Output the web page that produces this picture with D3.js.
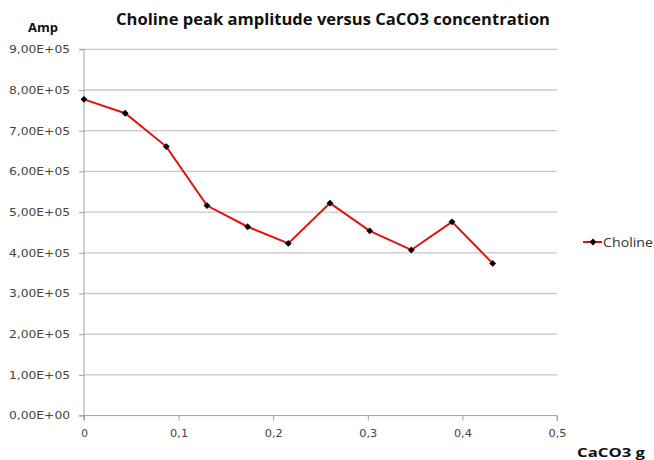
<!DOCTYPE html>
<html><head><meta charset="utf-8">
<script src="https://cdn.jsdelivr.net/npm/d3@7"></script>
<style>body{margin:0;background:#fff}</style>
</head><body>
<script>
const xValues = [0, 0.0435, 0.087, 0.13, 0.173, 0.216, 0.26, 0.302, 0.346, 0.389, 0.432];
const amplitudes = [777000, 743000, 661000, 516000, 464000, 423000, 522000, 454000, 407000, 476000, 374000];
const xTicks = [0, 0.1, 0.2, 0.3, 0.4, 0.5];
const xTickLabels = ["0", "0,1", "0,2", "0,3", "0,4", "0,5"];
const yTicks = [0, 100000, 200000, 300000, 400000, 500000, 600000, 700000, 800000, 900000];
const yTickLabels = ["0,00E+00","1,00E+05","2,00E+05","3,00E+05","4,00E+05","5,00E+05","6,00E+05","7,00E+05","8,00E+05","9,00E+05"];
const seriesName = "Choline";
const title = "Choline peak amplitude versus CaCO3 concentration";

const W = 654, H = 460;
const svg = d3.select("body").append("svg").attr("width", W).attr("height", H);
const font = "'Open Sans', 'Liberation Sans', sans-serif";
const tickFont = "'DejaVu Sans', sans-serif";
const x = d3.scaleLinear().domain([0, 0.5]).range([84, 557]);
const y = d3.scaleLinear().domain([0, 900000]).range([415.6, 49.3]);

// gridlines
svg.append("g").selectAll("line").data(yTicks.slice(1)).join("line")
  .attr("x1", 84).attr("x2", 557)
  .attr("y1", d => y(d)).attr("y2", d => y(d))
  .attr("stroke", "#c8c8c8").attr("stroke-width", 1.3);

// y axis
const yAxis = d3.axisLeft(y).tickValues(yTicks).tickSize(5).tickPadding(9)
  .tickFormat((d, i) => yTickLabels[i]);
const gy = svg.append("g").attr("transform", "translate(84,0)").call(yAxis);
gy.select(".domain").attr("stroke", "#a0a0a0").attr("d", `M-5,${y(0)}H0V${y(900000)}H-5`);
gy.selectAll(".tick line").attr("stroke", "#a0a0a0");
gy.selectAll(".tick text").attr("font-family", tickFont).attr("font-size", 10.5).attr("fill", "#444")
  .attr("textLength", 61).attr("lengthAdjust", "spacingAndGlyphs");

// x axis
const xAxis = d3.axisBottom(x).tickValues(xTicks).tickSize(5).tickPadding(9)
  .tickFormat((d, i) => xTickLabels[i]);
const gx = svg.append("g").attr("transform", `translate(0,${y(0)})`).call(xAxis);
gx.select(".domain").attr("stroke", "#a0a0a0").attr("d", `M${x(0)},5V0H${x(0.5)}V5`);
gx.selectAll(".tick line").attr("stroke", "#a0a0a0");
gx.selectAll(".tick text").attr("font-family", tickFont).attr("font-size", 10.5).attr("fill", "#444")
  .each(function(d, i) { if (i > 0) d3.select(this).attr("textLength", 18).attr("lengthAdjust", "spacingAndGlyphs"); });

// line
const data = xValues.map((v, i) => ({x: v, y: amplitudes[i]}));
svg.append("path").datum(data)
  .attr("d", d3.line().x(d => x(d.x)).y(d => y(d.y)))
  .attr("fill", "none").attr("stroke", "#e31010").attr("stroke-width", 2);
const diamond = d3.symbol().type(d3.symbolDiamond2).size(30);
svg.append("g").selectAll("path").data(data).join("path")
  .attr("d", diamond).attr("transform", d => `translate(${x(d.x)},${y(d.y)})`)
  .attr("fill", "#000");

// legend
const lg = svg.append("g").attr("transform", "translate(583,242)");
lg.append("line").attr("x1", 0).attr("x2", 19).attr("stroke", "#e31010").attr("stroke-width", 2);
lg.append("path").attr("d", diamond).attr("transform", "translate(10,0)").attr("fill", "#000");
lg.append("text").attr("x", 20).attr("y", 5).text(seriesName)
  .attr("font-family", font).attr("font-size", 13.5).attr("fill", "#333")
  .attr("textLength", 50).attr("lengthAdjust", "spacingAndGlyphs");

// titles
svg.append("text").attr("x", 333).attr("y", 25).attr("text-anchor", "middle")
  .attr("font-family", font).attr("font-weight", "bold").attr("font-size", 16.5).attr("fill", "#111")
  .attr("textLength", 434).attr("lengthAdjust", "spacingAndGlyphs")
  .text(title);
svg.append("text").attr("x", 43).attr("y", 32).attr("text-anchor", "middle")
  .attr("font-family", font).attr("font-weight", "bold").attr("font-size", 12).attr("fill", "#111")
  .attr("textLength", 30).attr("lengthAdjust", "spacingAndGlyphs")
  .text("Amp");
svg.append("text").attr("x", 611).attr("y", 457).attr("text-anchor", "middle")
  .attr("font-family", font).attr("font-weight", "bold").attr("font-size", 13).attr("fill", "#111")
  .attr("textLength", 68).attr("lengthAdjust", "spacingAndGlyphs")
  .text("CaCO3 g");
</script>
</body></html>
